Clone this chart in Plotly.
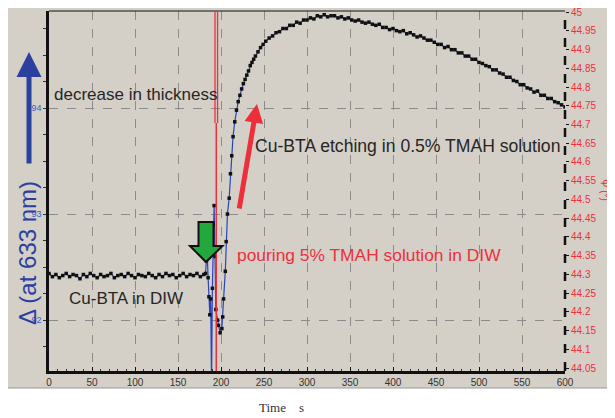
import plotly.graph_objects as go

# ---------------- data ----------------
t_base = [0, 4, 8, 12, 16, 20, 24, 28, 32, 36, 40, 44, 48, 52, 56, 60, 64, 68, 72, 76,
          80, 84, 88, 92, 96, 100, 104, 108, 112, 116, 120, 124, 128, 132, 136, 140,
          144, 148, 152, 156, 160, 164, 168, 172, 176, 180]
d_base = [92.44, 92.41, 92.43, 92.40, 92.42, 92.44, 92.41, 92.43, 92.42, 92.39,
          92.43, 92.41, 92.44, 92.42, 92.40, 92.43, 92.41, 92.42, 92.44, 92.40,
          92.42, 92.43, 92.41, 92.44, 92.42, 92.40, 92.43, 92.42, 92.41, 92.44,
          92.42, 92.40, 92.43, 92.41, 92.44, 92.42, 92.43, 92.40, 92.42, 92.44,
          92.41, 92.43, 92.42, 92.44, 92.41, 92.43]

t_rise = [182, 183, 184, 185, 186, 187, 188, 189, 190, 191,
          192, 193, 194, 196, 197, 199, 201, 202, 203, 205,
          206, 207.5, 209.5, 211, 212.5, 214, 216, 218, 220, 222,
          224, 226, 228, 230, 232, 234, 236, 238, 240, 243,
          246, 249, 252, 256, 260]
d_rise = [92.44, 92.56, 92.62, 92.40, 92.22, 92.05, 92.20, 91.40, 92.30, 92.90,
          93.08, 92.60, 92.10, 92.00, 91.95, 91.88, 91.92, 92.03, 92.20, 92.46,
          92.74, 93.00, 93.15, 93.38, 93.55, 93.73, 93.87, 93.98, 94.06, 94.12,
          94.18, 94.23, 94.27, 94.31, 94.35, 94.40, 94.43, 94.46, 94.49, 94.53,
          94.57, 94.60, 94.63, 94.66, 94.68]

t_etch = [264, 268, 272, 276, 280, 284, 288, 292, 296, 300,
          304, 308, 312, 316, 320, 324, 328, 332, 336, 340,
          344, 348, 352, 356, 360, 364, 368, 372, 376, 380,
          384, 388, 392, 396, 400, 404, 408, 412, 416, 420,
          424, 428, 432, 436, 440, 444, 448, 452, 456, 460,
          464, 468, 472, 476, 480, 484, 488, 492, 496, 500,
          504, 508, 512, 516, 520, 524, 528, 532, 536, 540,
          544, 548, 552, 556, 560, 564, 568, 572, 576, 580,
          584, 588, 592, 596, 600]
d_etch = [94.71, 94.72, 94.75, 94.75, 94.78, 94.78, 94.81, 94.80, 94.83, 94.83,
          94.85, 94.84, 94.87, 94.86, 94.88, 94.86, 94.87, 94.87, 94.85, 94.86,
          94.84, 94.85, 94.83, 94.82, 94.83, 94.81, 94.80, 94.81, 94.79, 94.78,
          94.79, 94.76, 94.76, 94.74, 94.75, 94.73, 94.72, 94.73, 94.70, 94.71,
          94.69, 94.67, 94.68, 94.66, 94.64, 94.64, 94.62, 94.60, 94.60, 94.57,
          94.58, 94.55, 94.55, 94.52, 94.52, 94.49, 94.49, 94.46, 94.46, 94.43,
          94.42, 94.40, 94.39, 94.36, 94.36, 94.33, 94.32, 94.29, 94.29, 94.26,
          94.25, 94.22, 94.22, 94.19, 94.18, 94.15, 94.16, 94.12, 94.12, 94.09,
          94.09, 94.06, 94.05, 94.03, 94.01]

x_ticks = [0, 50, 100, 150, 200, 250, 300, 350, 400, 450, 500, 550, 600]
left_ticks = [92, 93, 94]
right_ticks = [44.05, 44.1, 44.15, 44.2, 44.25, 44.3, 44.35, 44.4, 44.45, 44.5,
               44.55, 44.6, 44.65, 44.7, 44.75, 44.8, 44.85, 44.9, 44.95, 45.0]
right_labels = ["44.05", "44.1", "44.15", "44.2", "44.25", "44.3", "44.35", "44.4",
                "44.45", "44.5", "44.55", "44.6", "44.65", "44.7", "44.75", "44.8",
                "44.85", "44.9", "44.95", "45"]

time_s = t_base + t_rise + t_etch
delta = d_base + d_rise + d_etch

# ---------------- layout geometry ----------------
# the page body has an 8px margin, so the figure is offset by (8, 8)
OFF = 8
W, H = 615 - OFF, 418 - OFF
PL, PT, PW, PH = 49, 11, 516, 360          # plot area in page pixels
ML, MT = PL - OFF, PT - OFF
MR, MB = W - ML - PW, H - MT - PH
X_RANGE = [0, 600]
Y_RANGE = [91.52, 94.915]
Y2_RANGE = [44.042, 45.003]


def px(xp):  # page pixel -> paper x
    return (xp - PL) / PW


def py(yp):  # page pixel -> paper y
    return (PT + PH - yp) / PH


GRAY = "#d4d0c8"
FONT = "Liberation Sans, Arial, sans-serif"
BLUE = "#2b3f9e"
RED = "#ee2f3b"
TXT = "#262626"

fig = go.Figure()
fig.add_trace(go.Scatter(
    x=time_s, y=delta, mode="lines+markers",
    line=dict(color="#2a44b8", width=1.2),
    marker=dict(symbol="square", size=3.5, color="#101010"),
    showlegend=False, hoverinfo="skip",
))
fig.add_trace(go.Scatter(x=[None], y=[None], yaxis="y2", showlegend=False))

shapes = [
    # gray panel behind the chart
    dict(type="rect", xref="paper", yref="paper", x0=px(OFF), x1=px(620), y0=py(388), y1=py(0),
         fillcolor=GRAY, line=dict(width=0), layer="below"),
    dict(type="line", xref="paper", yref="paper", x0=px(OFF), x1=px(620), y0=py(388), y1=py(388),
         line=dict(color="#9a9a9a", width=1)),
    # top frame line
    dict(type="line", xref="paper", yref="paper", x0=0, x1=1, y0=1, y1=1,
         line=dict(color="#111", width=1)),
    # right dashed axis line
    dict(type="line", xref="paper", yref="paper", x0=1, x1=1, y0=0, y1=1,
         line=dict(color="#111", width=2.5, dash="dash")),
    # red event lines
    dict(type="line", xref="x", yref="paper", x0=193, x1=193, y0=py(123), y1=1,
         line=dict(color=RED, width=1.3)),
    dict(type="line", xref="x", yref="paper", x0=196, x1=196, y0=py(123), y1=1,
         line=dict(color=RED, width=1.3)),
    dict(type="line", xref="x", yref="paper", x0=194.5, x1=194.5, y0=0, y1=py(123),
         line=dict(color=RED, width=1.5)),
    # green block arrow
    dict(type="path", xref="paper", yref="paper",
         path=("M{a},{b} L{c},{b} L{c},{d} L{e},{d} L{f},{g} L{h},{d} L{a},{d} Z").format(
             a=px(198.5), b=py(222), c=px(213.5), d=py(246), e=px(222.5),
             f=px(206), g=py(262), h=px(190)),
         fillcolor="#22a83c", line=dict(color="#111", width=2)),
]

annotations = [
    dict(text="decrease in thickness", x=px(52), y=py(95), xref="paper", yref="paper",
         xanchor="left", yanchor="middle", showarrow=False,
         font=dict(family=FONT, size=17, color=TXT)),
    dict(text="Cu-BTA etching in 0.5% TMAH solution", x=px(253), y=py(146), xref="paper",
         yref="paper", xanchor="left", yanchor="middle", showarrow=False,
         font=dict(family=FONT, size=17.6, color=TXT)),
    dict(text="pouring 5% TMAH solution in DIW", x=px(235), y=py(255), xref="paper",
         yref="paper", xanchor="left", yanchor="middle", showarrow=False,
         font=dict(family=FONT, size=17.4, color=RED)),
    dict(text="Cu-BTA in DIW", x=px(67), y=py(298), xref="paper", yref="paper",
         xanchor="left", yanchor="middle", showarrow=False,
         font=dict(family=FONT, size=17, color=TXT)),
    dict(text="Δ (at 633 nm)", x=px(27), y=py(253), xref="paper", yref="paper",
         xanchor="center", yanchor="middle", showarrow=False, textangle=-90,
         font=dict(family=FONT, size=24, color=BLUE)),
    dict(text="Ψ (°)", x=px(605), y=py(190), xref="paper", yref="paper",
         xanchor="center", yanchor="middle", showarrow=False, textangle=90,
         font=dict(family=FONT, size=10, color=RED)),
    dict(text="Time    s", x=px(281), y=py(407), xref="paper", yref="paper",
         xanchor="center", yanchor="middle", showarrow=False,
         font=dict(family="Liberation Serif, Times New Roman, serif", size=13, color="#333")),
    # blue arrow
    dict(text="", x=px(29), y=py(52), xref="paper", yref="paper", showarrow=True,
         ax=0, ay=113, arrowhead=2, arrowwidth=5, arrowsize=1, arrowcolor=BLUE),
    # red arrow
    dict(text="", x=px(257), y=py(104), xref="paper", yref="paper", showarrow=True,
         ax=-18, ay=106, arrowhead=2, arrowwidth=5, arrowsize=0.75, arrowcolor=RED),
]

fig.update_layout(
    width=W, height=H,
    margin=dict(l=ML, r=MR, t=MT, b=MB, pad=0),
    paper_bgcolor="white", plot_bgcolor=GRAY,
    showlegend=False,
    shapes=shapes, annotations=annotations,
    xaxis=dict(range=X_RANGE, tickvals=x_ticks, ticks="inside", ticklen=4,
               tickcolor="#111", showline=True, linecolor="#111", linewidth=2.5,
               showgrid=True, gridcolor="#8c8c8c", griddash="dash", gridwidth=1,
               zeroline=False, tickfont=dict(family=FONT, size=10, color="#333"),
               minor=dict(dtick=10, ticks="inside", ticklen=2, tickcolor="#333"),
               ticklabeloverflow="allow", automargin=False, fixedrange=True),
    yaxis=dict(range=Y_RANGE, tickvals=left_ticks, ticks="outside", ticklen=3,
               tickcolor="#333", showline=True, linecolor="#111", linewidth=2.5,
               showgrid=True, gridcolor="#8c8c8c", griddash="dash", gridwidth=1,
               zeroline=False, tickfont=dict(family=FONT, size=9, color="#4256c8"),
               minor=dict(dtick=0.25, ticks="outside", ticklen=3, tickcolor="#333"),
               ticklabeloverflow="allow", automargin=False, fixedrange=True),
    yaxis2=dict(range=Y2_RANGE, overlaying="y", side="right", tickvals=right_ticks,
                ticktext=right_labels, ticks="outside", ticklen=3, tickcolor="#111",
                showline=False, showgrid=False, zeroline=False,
                tickfont=dict(family=FONT, size=10, color=RED),
                ticklabeloverflow="allow", automargin=False, fixedrange=True),
)

fig.write_html("out.html")
